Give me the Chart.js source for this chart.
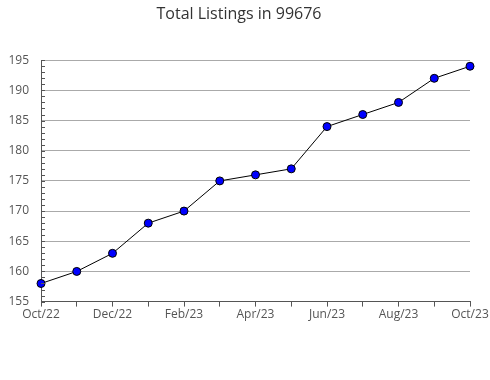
<!DOCTYPE html>
<html><head><meta charset="utf-8">
<script src="https://cdn.jsdelivr.net/npm/chart.js@4.4.0/dist/chart.umd.min.js"></script>
<style>html,body{margin:0;padding:0;background:#fff}#wrap{width:490px;height:380px}</style>
</head><body><div id="wrap"><canvas id="c" width="490" height="380"></canvas></div>
<script>
const months = ["Oct/22","Nov/22","Dec/22","Jan/23","Feb/23","Mar/23","Apr/23","May/23","Jun/23","Jul/23","Aug/23","Sep/23","Oct/23"];
const listings = [158,160,163,168,170,175,176,177,184,186,188,192,194];
const yMin = 155, yMax = 195, yMajor = 5;

const minorTicks = {
  id: 'minorTicks',
  afterDatasetsDraw(chart) {
    const y = chart.scales.y, ctx = chart.ctx, x0 = chart.chartArea.left;
    ctx.save(); ctx.strokeStyle = '#555'; ctx.lineWidth = 1;
    for (let v = yMin; v <= yMax; v++) {
      const py = Math.round(y.getPixelForValue(v)) + 0.5;
      ctx.beginPath(); ctx.moveTo(x0, py); ctx.lineTo(x0 + 4, py); ctx.stroke();
    }
    ctx.restore();
  }
};

new Chart(document.getElementById('c'), {
  type: 'line',
  data: { labels: months, datasets: [{
    data: listings, borderColor: '#000', borderWidth: 1, tension: 0,
    pointRadius: 4, pointHoverRadius: 4, pointBackgroundColor: '#0000ff', pointBorderColor: '#000', pointBorderWidth: 1
  }]},
  plugins: [minorTicks],
  options: {
    responsive: false, animation: false,
    layout: { padding: { left: 8, right: 20, top: 0, bottom: 57 } },
    plugins: {
      legend: { display: false }, tooltip: { enabled: false },
      title: { display: true, text: 'Total Listings in 99676', color: '#333',
        font: { family: 'Open Sans', size: 16, weight: 'normal' }, padding: { top: 5, bottom: 36 } }
    },
    scales: {
      x: { offset: false,
        afterFit: s => { s.paddingLeft = 0; s.paddingRight = 0; },
        grid: { drawOnChartArea: false, color: '#555', tickColor: '#555', tickLength: 5 },
        border: { color: '#555' },
        ticks: { autoSkip: false, maxRotation: 0, color: '#555', padding: 1,
          font: { family: 'Open Sans', size: 12 },
          callback: (v, i) => i % 2 === 0 ? months[i] : '' }
      },
      y: { min: yMin, max: yMax,
        afterFit: s => { s.width = 33; },
        grid: { color: '#aaa', drawTicks: false },
        border: { color: '#555' },
        ticks: { stepSize: yMajor, color: '#555', padding: 12,
          font: { family: 'Open Sans', size: 12 } }
      }
    }
  }
});
</script></body></html>
